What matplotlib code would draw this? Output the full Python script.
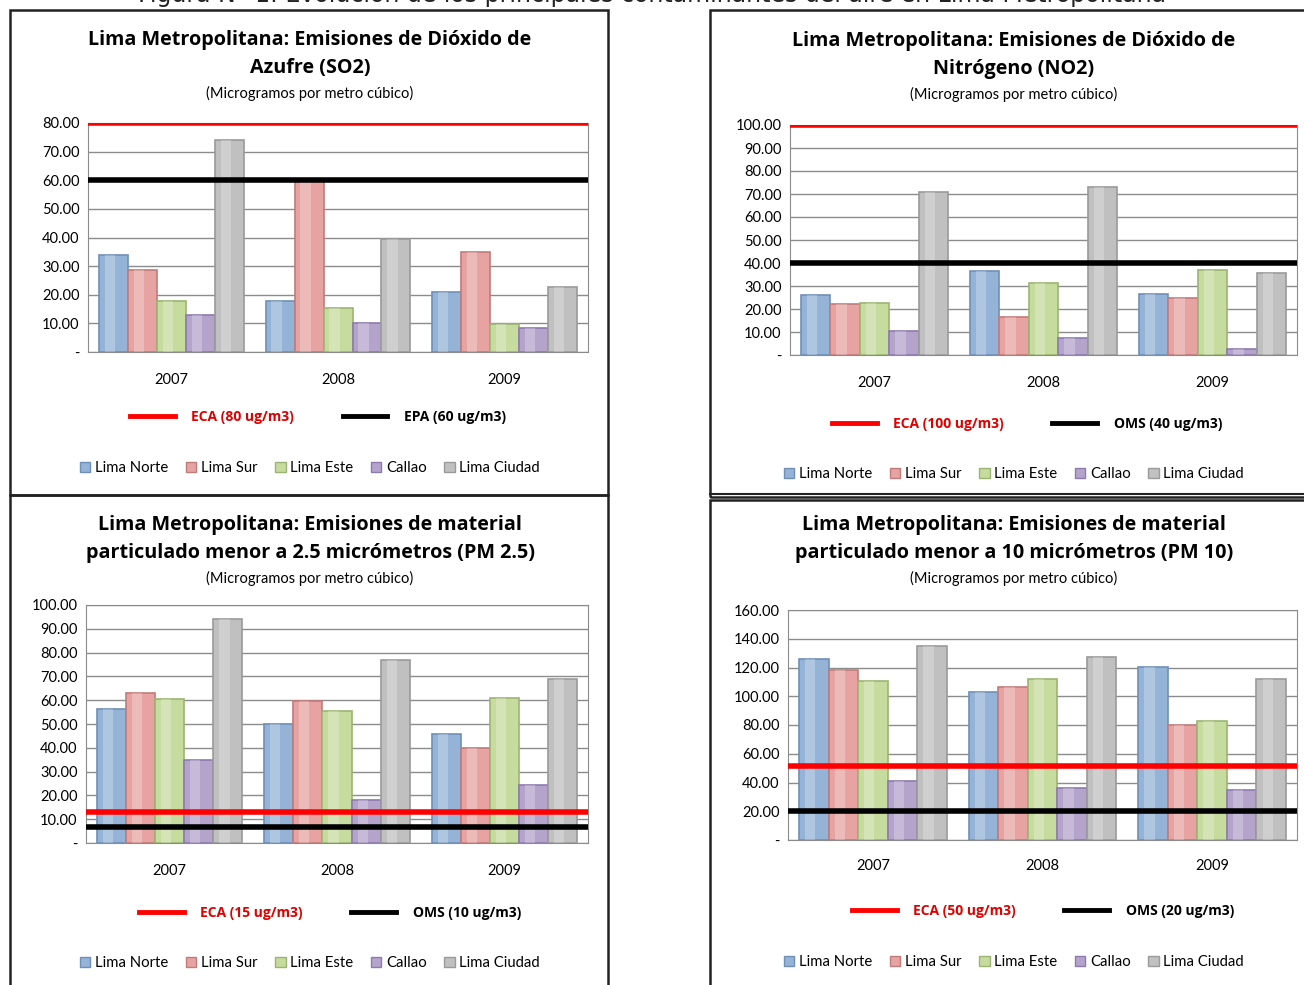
import numpy as np
import matplotlib
matplotlib.use("Agg")
import matplotlib.pyplot as plt
from matplotlib.patches import Rectangle, Patch
from matplotlib.lines import Line2D

plt.rcParams['font.family'] = ['Lato', 'DejaVu Sans']

# datos
years = ['2007', '2008', '2009']
zonas = ['Lima Norte', 'Lima Sur', 'Lima Este', 'Callao', 'Lima Ciudad']

so2_norte = [34.0, 17.8, 20.8]
so2_sur = [28.6, 60.0, 34.8]
so2_este = [17.9, 15.5, 9.9]
so2_callao = [13.0, 10.2, 8.3]
so2_ciudad = [74.2, 39.6, 22.7]

no2_norte = [25.9, 36.5, 26.4]
no2_sur = [22.3, 16.4, 24.9]
no2_este = [22.5, 31.4, 36.8]
no2_callao = [10.6, 7.5, 2.5]
no2_ciudad = [70.9, 73.0, 35.7]

pm25_norte = [56.4, 49.8, 45.7]
pm25_sur = [62.9, 59.7, 39.9]
pm25_este = [60.6, 55.4, 60.8]
pm25_callao = [35.0, 18.2, 24.5]
pm25_ciudad = [94.3, 76.8, 68.8]

pm10_norte = [126.0, 102.9, 120.2]
pm10_sur = [118.4, 106.7, 79.8]
pm10_este = [110.9, 112.3, 82.6]
pm10_callao = [41.2, 36.5, 34.9]
pm10_ciudad = [135.2, 127.0, 112.3]

# limites tal como aparecen dibujados
so2_lims = [80, 60]
no2_lims = [100, 40]
pm25_lims = [12.9, 6.8]
pm10_lims = [51.5, 20.5]

so2_labels = ['ECA (80 ug/m3)', 'EPA (60 ug/m3)']
no2_labels = ['ECA (100 ug/m3)', 'OMS (40 ug/m3)']
pm25_labels = ['ECA (15 ug/m3)', 'OMS (10 ug/m3)']
pm10_labels = ['ECA (50 ug/m3)', 'OMS (20 ug/m3)']

colores = ['#95B3D7', '#E6A3A1', '#C6DC9E', '#B4A4CC', '#C0C0C0']
bordes = ['#6F8FB8', '#C07C7A', '#9CB472', '#8E7BAE', '#9A9A9A']

W, H = 1304, 985
fig = plt.figure(figsize=(W / 100, H / 100), dpi=100)


def fx(px):
    return px / W


def fy(py):
    return 1 - py / H


# marcos de los paneles
for (x0, y0, x1, y1) in [(10, 10, 608, 495), (10, 495, 608, 990),
                         (710, 10, 1310, 497), (710, 500, 1310, 990)]:
    fig.patches.append(Rectangle((fx(x0), fy(y1)), fx(x1 - x0), (y1 - y0) / H,
                                 transform=fig.transFigure, fill=False,
                                 edgecolor='#222222', lw=1.8))
fig.add_artist(Line2D([fx(710), 1], [fy(494), fy(494)], transform=fig.transFigure,
                      color='#222222', lw=1.5))

fig.text(0.5, fy(-6), 'Figura N° 1: Evolución de los principales contaminantes del aire en Lima Metropolitana',
         ha='center', va='center', fontsize=17, family='DejaVu Sans', color='#222222')

BOLD = ['Open Sans', 'DejaVu Sans']


def panel(rect, pcx, titulo, series, ymax, step, lims, lims_labels, ty, yy, ly, lcx, cy):
    ax = fig.add_axes(rect)
    x = np.arange(len(years))
    w = 0.174
    for i, vals in enumerate(series):
        pos = x + (i - 2) * w
        ax.bar(pos, vals, width=w, color=colores[i], edgecolor=bordes[i], lw=1.2, zorder=3)
        # brillo central del efecto 3D
        ax.bar(pos - w * 0.12, vals, width=w * 0.35, color='white', alpha=0.25, lw=0, zorder=3)
    ax.axhline(lims[0], color='#FF0000', lw=4, zorder=4)
    ax.axhline(lims[1], color='black', lw=4, zorder=4)
    ax.set_xlim(-0.5, len(years) - 0.5)
    ax.set_ylim(0, ymax)
    ticks = np.arange(0, ymax + step / 2, step)
    ax.set_yticks(ticks)
    ax.set_yticklabels(['-' if t == 0 else f'{t:.2f}' for t in ticks], fontsize=10.5)
    ax.set_xticks(x)
    ax.set_xticklabels(years, fontsize=10.5)
    ax.tick_params(axis='x', length=0, pad=yy)
    ax.tick_params(axis='y', length=0, pad=6)
    ax.grid(axis='y', color='#8C8C8C', lw=1.0, zorder=0)
    for s in ax.spines.values():
        s.set_color('#8C8C8C')
    cx = fx(pcx)
    fig.text(cx, fy(ty), titulo[0], ha='center', va='center', fontsize=14.2,
             fontweight='bold', family=BOLD)
    fig.text(cx, fy(ty + 28), titulo[1], ha='center', va='center', fontsize=14.2,
             fontweight='bold', family=BOLD)
    fig.text(cx, fy(ty + 53), '(Microgramos por metro cúbico)', ha='center', va='center', fontsize=10.5)

    h_lines = [Line2D([], [], color='#FF0000', lw=3.5), Line2D([], [], color='black', lw=3.5)]
    leg1 = ax.legend(h_lines, lims_labels, loc='center', ncol=2, frameon=False,
                     bbox_to_anchor=(fx(lcx), fy(ly)), bbox_transform=fig.transFigure,
                     handlelength=3.2, columnspacing=3.5, handletextpad=1.2,
                     prop={'size': 10, 'weight': 'bold', 'family': BOLD})
    leg1.get_texts()[0].set_color('#E00000')
    ax.add_artist(leg1)
    h_bars = [Patch(facecolor=colores[i], edgecolor=bordes[i]) for i in range(len(zonas))]
    ax.legend(h_bars, zonas, loc='center', ncol=5, frameon=False,
              bbox_to_anchor=(cx, fy(cy)), bbox_transform=fig.transFigure,
              handlelength=0.7, handleheight=0.7, handletextpad=0.3, columnspacing=1.2,
              prop={'size': 10.7})
    return ax


panel([fx(88), fy(352), fx(500), 229 / H], 310,
      ['Lima Metropolitana: Emisiones de Dióxido de', 'Azufre (SO2)'],
      [so2_norte, so2_sur, so2_este, so2_callao, so2_ciudad], 80, 10,
      so2_lims, so2_labels, 40, 15, 417, 318, 468)

panel([fx(790), fy(355), fx(507), 230 / H], 1014,
      ['Lima Metropolitana: Emisiones de Dióxido de', 'Nitrógeno (NO2)'],
      [no2_norte, no2_sur, no2_este, no2_callao, no2_ciudad], 100, 10,
      no2_lims, no2_labels, 41, 15, 424, 1027, 474)

panel([fx(86), fy(843), fx(502), 238 / H], 310,
      ['Lima Metropolitana: Emisiones de material', 'particulado menor a 2.5 micrómetros (PM 2.5)'],
      [pm25_norte, pm25_sur, pm25_este, pm25_callao, pm25_ciudad], 100, 10,
      pm25_lims, pm25_labels, 525, 15, 913, 330, 963)

panel([fx(788), fy(840), fx(509), 230 / H], 1014,
      ['Lima Metropolitana: Emisiones de material', 'particulado menor a 10 micrómetros (PM 10)'],
      [pm10_norte, pm10_sur, pm10_este, pm10_callao, pm10_ciudad], 160, 20,
      pm10_lims, pm10_labels, 525, 14, 911, 1043, 962)

fig.savefig('out.png', dpi=100)
